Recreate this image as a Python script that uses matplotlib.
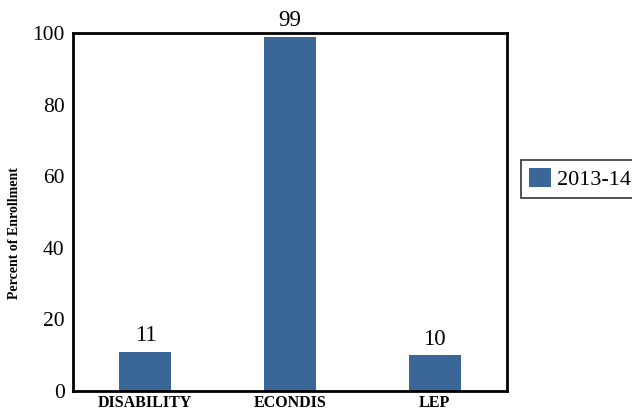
import matplotlib
matplotlib.use("Agg")
import matplotlib.pyplot as plt

# data
categories = ["DISABILITY", "ECONDIS", "LEP"]
values = [11, 99, 10]
series_name = "2013-14"

BAR_COLOR = "#3b6698"

plt.rcParams["font.family"] = ["Liberation Serif", "DejaVu Serif"]

fig = plt.figure(figsize=(6.32, 4.13), dpi=100)
ax = fig.add_axes([0.1155, 0.053, 0.687, 0.867])

x = list(range(len(categories)))
bars = ax.bar(x, values, width=0.36, color=BAR_COLOR, label=series_name)

for xi, v in zip(x, values):
    ax.text(xi, v + 1.5, str(v), ha="center", va="bottom", fontsize=16.5)

ax.set_xlim(-0.5, len(categories) - 0.5)
ax.set_ylim(0, 100)
ax.set_yticks([0, 20, 40, 60, 80, 100])
ax.set_xticks(x)
ax.set_xticklabels(categories, fontsize=11.5, fontweight="bold")
ax.tick_params(axis="y", labelsize=15.5, length=0, pad=6)
ax.tick_params(axis="x", length=0, pad=3)
ax.set_ylabel("Percent of Enrollment", fontsize=10, fontweight="bold")
ax.yaxis.set_label_coords(-0.12, 0.44)

for s in ax.spines.values():
    s.set_linewidth(2)
    s.set_color("black")

leg = fig.legend(loc="center left", bbox_to_anchor=(0.824, 0.567), fontsize=16,
                 frameon=True, fancybox=False, edgecolor="black",
                 handlelength=1.0, handleheight=1.0, handletextpad=0.3,
                 borderpad=0.35, borderaxespad=0)
leg.get_frame().set_linewidth(1.2)

fig.savefig("out.png", dpi=100)
